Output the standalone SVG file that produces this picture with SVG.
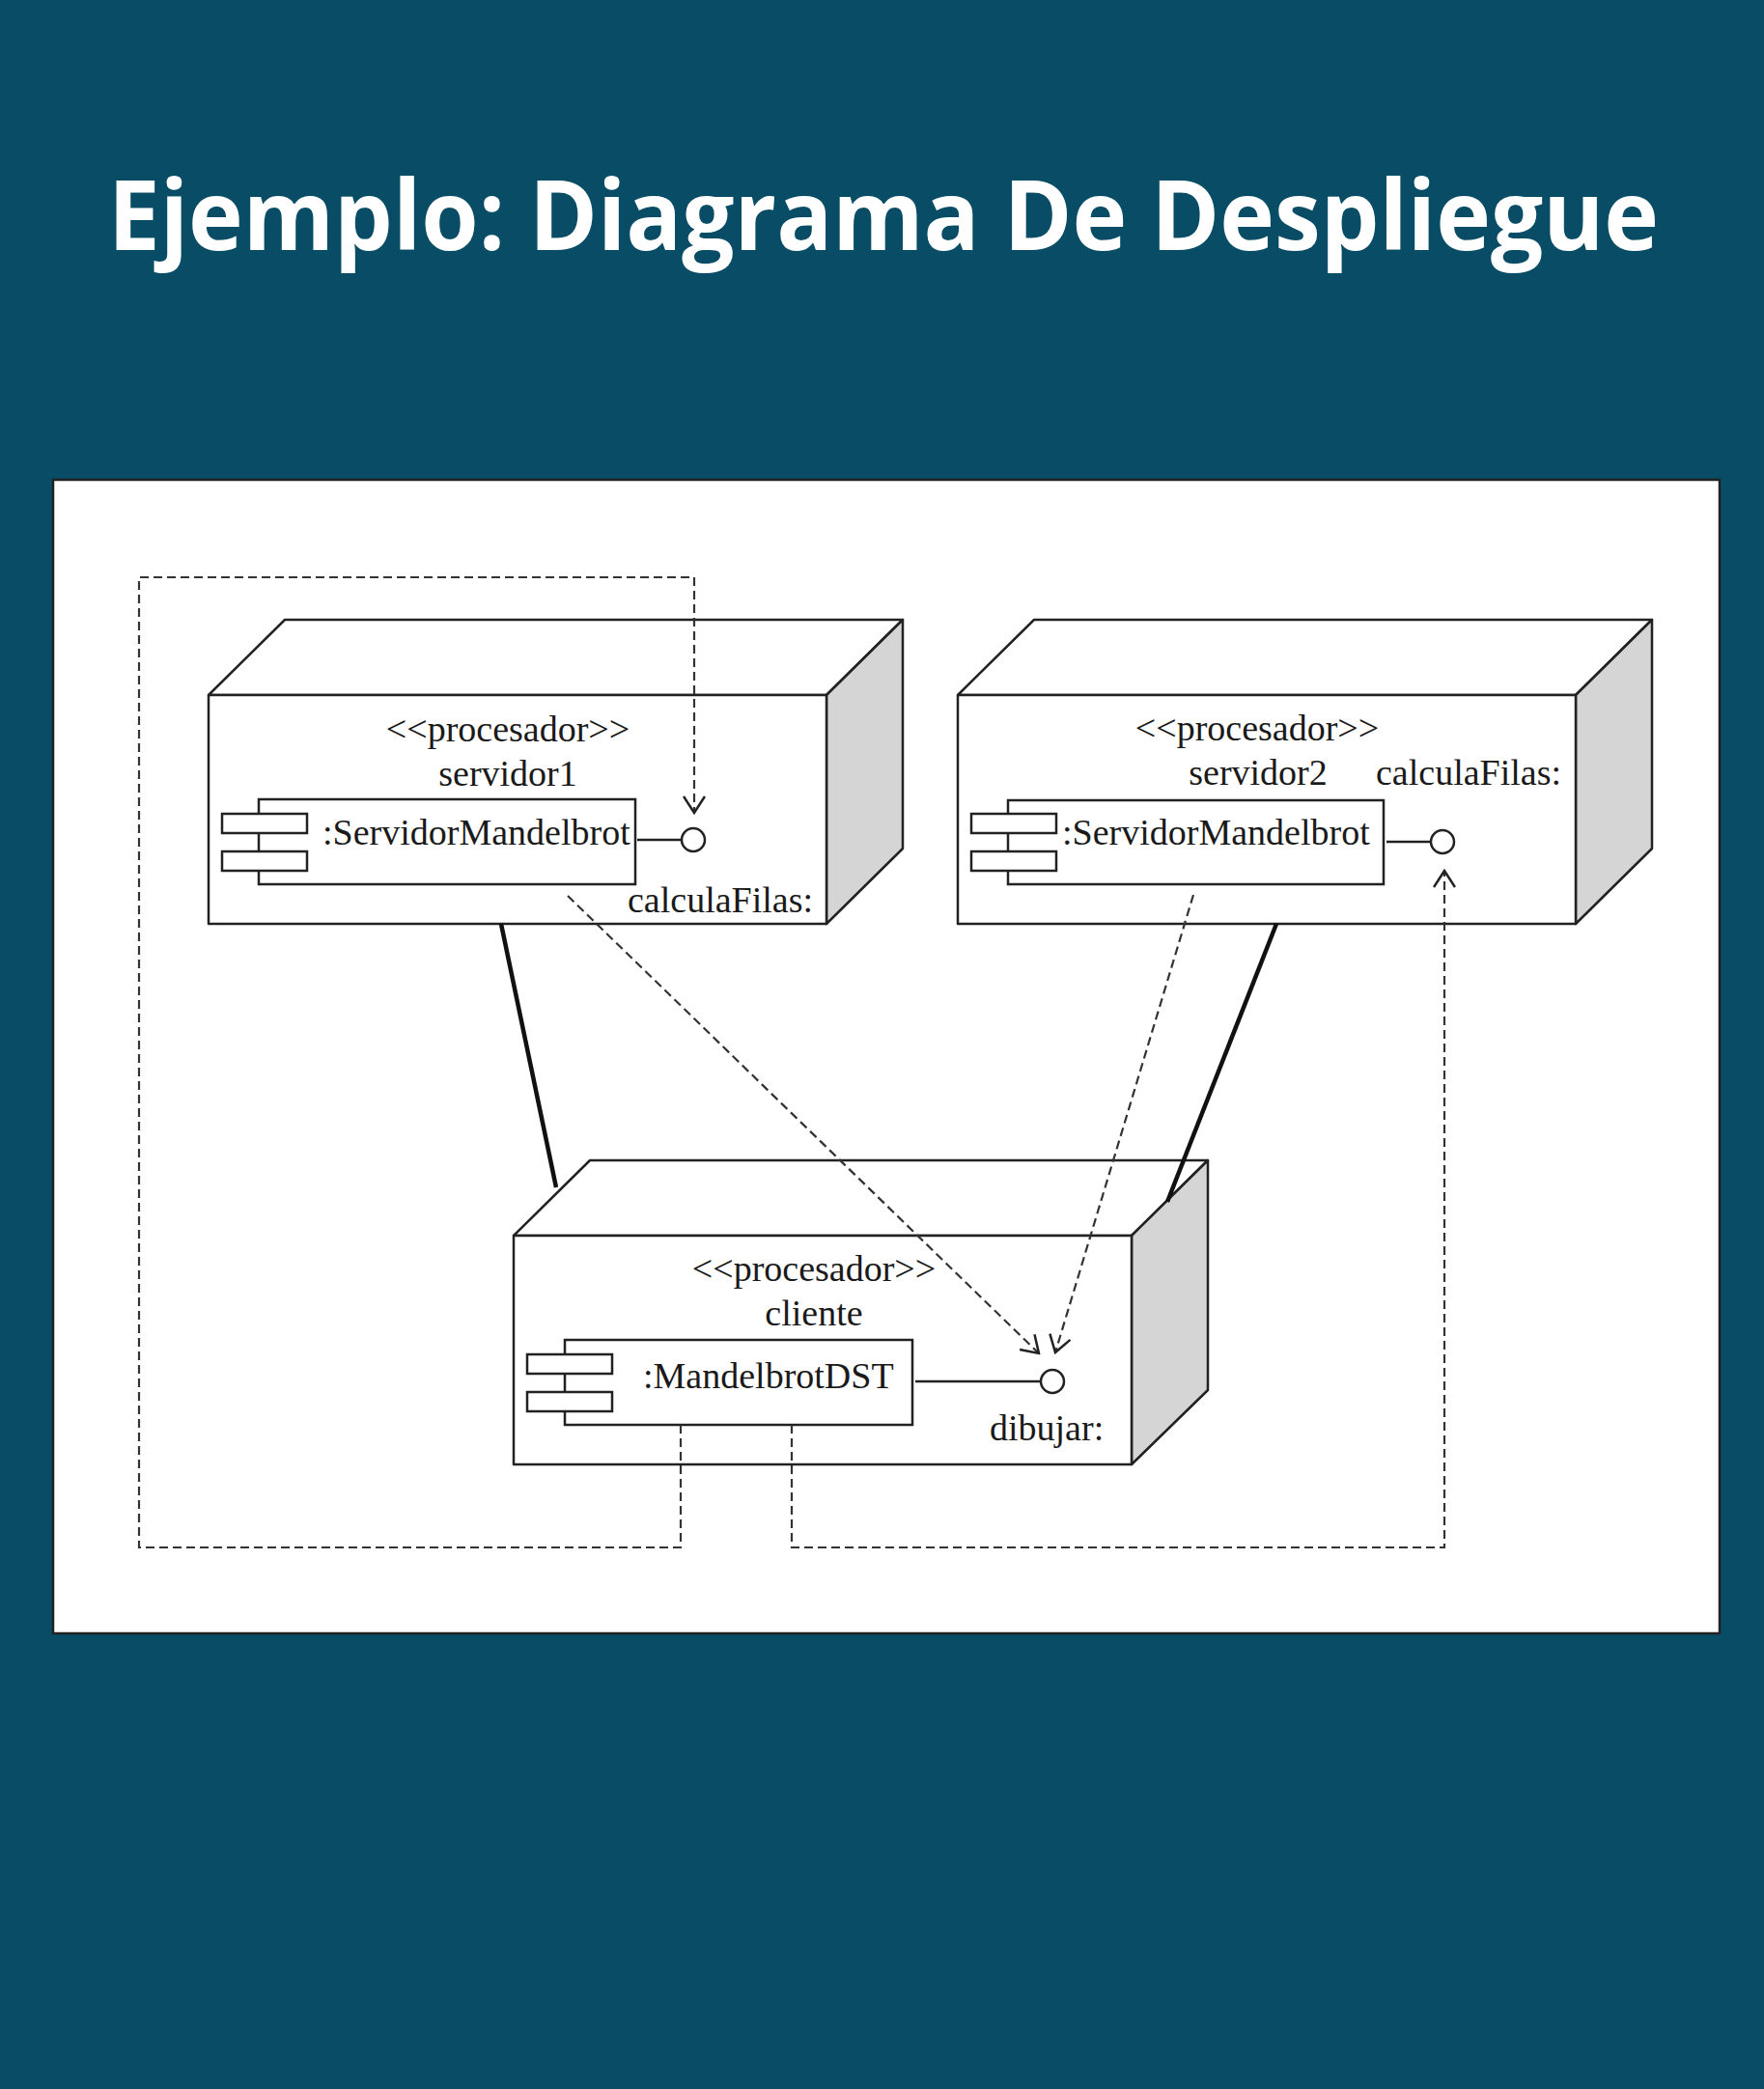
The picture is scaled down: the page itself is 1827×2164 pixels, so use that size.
<svg xmlns="http://www.w3.org/2000/svg" width="1827" height="2164" viewBox="0 0 1827 2164">
<style>
.bg{fill:#084c66}
.title{font-family:"Open Sans","Noto Sans","DejaVu Sans",sans-serif;font-weight:700;font-size:100px;fill:#ffffff}
.face{fill:#ffffff;stroke:#222;stroke-width:2.5;stroke-linejoin:round}
.side{fill:#d5d5d5;stroke:#222;stroke-width:2.5;stroke-linejoin:round}
.comp{fill:#ffffff;stroke:#222;stroke-width:2.5}
.t{font-family:"Liberation Serif","Times New Roman",serif;font-size:38px;fill:#1a1a1a}
.m{text-anchor:middle}
.lol{fill:#ffffff;stroke:#222;stroke-width:2.5}
.dash{fill:none;stroke:#333;stroke-width:2.2;stroke-dasharray:9 5}
.link{fill:none;stroke:#111;stroke-width:4.5}
</style>
<defs>
<marker id="open" viewBox="0 0 20 24" refX="18" refY="12" markerWidth="20" markerHeight="24" markerUnits="userSpaceOnUse" orient="auto">
<path d="M1,1 L18,12 L1,23" fill="none" stroke="#222" stroke-width="2.5"/>
</marker>
</defs>
<rect class="bg" x="0" y="0" width="1827" height="2164"/>
<text class="title" x="915" y="259" text-anchor="middle" textLength="1606" lengthAdjust="spacingAndGlyphs">Ejemplo: Diagrama De Despliegue</text>
<rect x="55" y="497" width="1726" height="1195" fill="#ffffff" stroke="#222" stroke-width="2.5"/>

<g id="servidor1">
<path class="face" d="M216,720 L295,642 L935,642 L856,720 Z"/>
<path class="side" d="M856,720 L935,642 L935,879 L856,957 Z"/>
<rect class="face" x="216" y="720" width="640" height="237"/>
<text class="t m" x="526" y="768">&lt;&lt;procesador&gt;&gt;</text>
<text class="t m" x="526" y="814">servidor1</text>
<rect class="comp" x="268" y="828" width="390" height="88"/>
<rect class="comp" x="230" y="843" width="88" height="20"/>
<rect class="comp" x="230" y="882" width="88" height="20"/>
<text class="t" x="334" y="875">:ServidorMandelbrot</text>
<line x1="660" y1="870" x2="706" y2="870" stroke="#222" stroke-width="2.5"/>
<circle class="lol" cx="718" cy="870" r="12"/>
<text class="t" x="650" y="945">calculaFilas:</text>
</g>

<g id="servidor2">
<path class="face" d="M992,720 L1071,642 L1711,642 L1632,720 Z"/>
<path class="side" d="M1632,720 L1711,642 L1711,879 L1632,957 Z"/>
<rect class="face" x="992" y="720" width="640" height="237"/>
<text class="t m" x="1302" y="767">&lt;&lt;procesador&gt;&gt;</text>
<text class="t m" x="1303" y="813">servidor2</text>
<text class="t" x="1425" y="813">calculaFilas:</text>
<rect class="comp" x="1044" y="829" width="389" height="87"/>
<rect class="comp" x="1006" y="843" width="88" height="20"/>
<rect class="comp" x="1006" y="882" width="88" height="20"/>
<text class="t" x="1100" y="875">:ServidorMandelbrot</text>
<line x1="1436" y1="872" x2="1482" y2="872" stroke="#222" stroke-width="2.5"/>
<circle class="lol" cx="1494" cy="872" r="12"/>
</g>

<g id="cliente">
<path class="face" d="M532,1280 L611,1202 L1251,1202 L1172,1280 Z"/>
<path class="side" d="M1172,1280 L1251,1202 L1251,1440 L1172,1517 Z"/>
<rect class="face" x="532" y="1280" width="640" height="237"/>
<text class="t m" x="843" y="1327">&lt;&lt;procesador&gt;&gt;</text>
<text class="t m" x="843" y="1373">cliente</text>
<rect class="comp" x="585" y="1388" width="360" height="88"/>
<rect class="comp" x="546" y="1403" width="88" height="20"/>
<rect class="comp" x="546" y="1442" width="88" height="20"/>
<text class="t" x="666" y="1438">:MandelbrotDST</text>
<line x1="948" y1="1431" x2="1078" y2="1431" stroke="#222" stroke-width="2.5"/>
<circle class="lol" cx="1090" cy="1431" r="12"/>
<text class="t" x="1025" y="1492">dibujar:</text>
</g>

<g id="connectors">
<line class="link" x1="519" y1="957" x2="576" y2="1230"/>
<line class="link" x1="1322" y1="957" x2="1209" y2="1245"/>
<path class="dash" d="M705,1476 V1603 H144 V598 H719 V842" marker-end="url(#open)"/>
<path class="dash" d="M820,1476 V1603 H1496 V902" marker-end="url(#open)"/>
<path class="dash" d="M588,928 L1076,1402" marker-end="url(#open)"/>
<path class="dash" d="M1236,927 L1093,1401" marker-end="url(#open)"/>
</g>
</svg>
